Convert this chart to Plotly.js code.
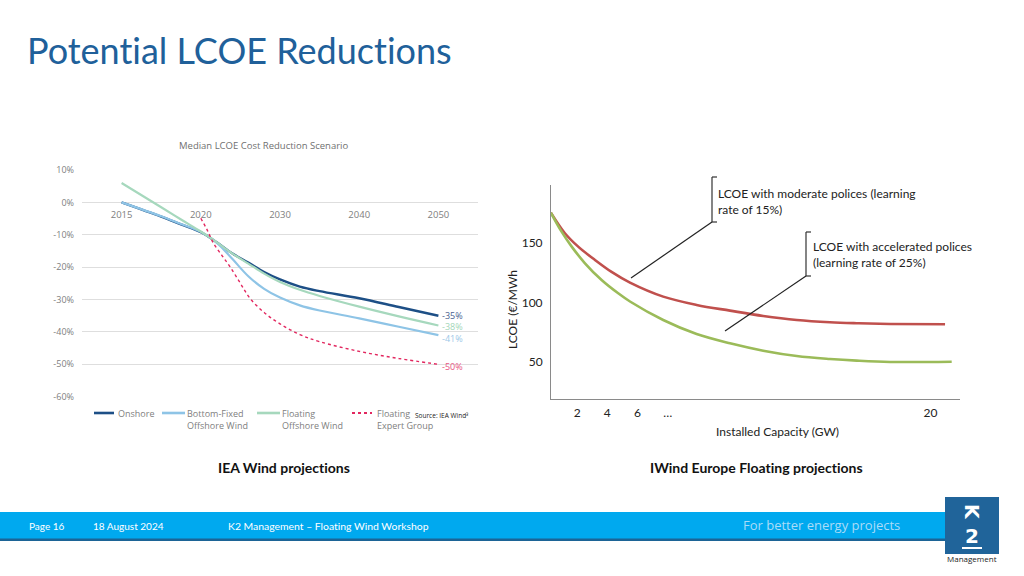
<!DOCTYPE html>
<html><head><meta charset="utf-8">
<script src="https://cdn.plot.ly/plotly-3.0.1.min.js"></script>
<style>html,body{margin:0;padding:0;background:#fff;}#chart{width:1024px;height:576px;}
svg text{font-variant-ligatures:none;font-feature-settings:"liga" 0,"clig" 0;}</style>
</head><body><div id="chart"></div>
<script>
const W = 1024, H = 576;
const px = x => x / W, py = y => 1 - y / H;

// ---- Left chart: IEA Wind median LCOE cost reduction (% vs 2015) ----
const ieaTickPos = [0, 1, 2, 3, 4];
const ieaTickText = ['2015', '2020', '2030', '2040', '2050'];
const pctTickVals = [10, 0, -10, -20, -30, -40, -50, -60];
const pctTickText = ['10%', '0%', '-10%', '-20%', '-30%', '-40%', '-50%', '-60%'];

const solidX = [0, 0.5, 0.75, 1, 1.2, 1.4, 1.6, 1.8, 2, 2.25, 2.5, 3, 3.5, 4];
const onshoreY = [0, -4.4, -6.8, -9.2, -12.3, -15.8, -18.6, -21.5, -23.8, -26, -27.4, -29.6, -32.3, -35];
const fixedY = [0, -4.3, -6.7, -9.1, -12.4, -17.5, -22.8, -26.7, -29.4, -31.8, -33.4, -35.8, -38.4, -41];
const floatY = [6, -1.5, -5.3, -9, -12.3, -15.8, -18.9, -22, -24.6, -27, -28.9, -32.2, -35.2, -38];
const expertX = [1.0, 1.08, 1.16, 1.27, 1.37, 1.5, 1.62, 1.8, 2, 2.25, 2.5, 3, 3.5, 4];
const expertY = [-4.9, -8.5, -12.6, -16.5, -19.9, -25, -29.6, -34, -37.5, -40.8, -43, -46, -48.2, -50];
const seriesNames = ['Onshore', 'Bottom-Fixed<br>Offshore Wind', 'Floating<br>Offshore Wind', 'Floating<br>Expert Group'];
const endLabels = ['-35%', '-38%', '-41%', '-50%'];
const endValues = [-35, -38, -41, -50];

// ---- Right chart: WindEurope floating LCOE vs installed capacity ----
const capTickPos = [2, 4, 6, 8, 25.4];
const capTickText = ['2', '4', '6', '…', '20'];
const lcoeTickVals = [50, 100, 150];
const moderateX = [0.26, 1.19, 2.07, 3.18, 4.28, 5.5, 7.7, 9.91, 12.12, 14.32, 16.54, 18.74, 20.51, 22.72, 26.36];
const moderateY = [175.7, 158.4, 147.1, 135.9, 125.8, 116.8, 105.0, 98.0, 93.2, 88.7, 85.3, 83.4, 82.6, 82.0, 81.7];
const accelX = [0.26, 0.97, 1.64, 2.52, 3.62, 4.72, 5.5, 7.7, 9.91, 12.12, 14.32, 16.54, 18.74, 20.51, 22.72, 26.8];
const accelY = [175.7, 159.7, 147.1, 133.1, 119.0, 107.8, 100.9, 85.3, 73.5, 65.7, 59.5, 55.0, 52.5, 51.1, 50.0, 50.2];

const gFont = 'Open Sans, sans-serif';
const cFont = 'Lato, sans-serif';
const grey = '#808080';
const seriesColors = ['#1d4f86', '#8ec4e6', '#a6d8bd', '#e2275f'];
const seriesWidths = [2.4, 2.2, 2.2, 1.4];
const seriesDash = ['solid', 'solid', 'solid', 'dot'];

const leftX = [solidX, solidX, solidX, expertX];
const leftY = [onshoreY, fixedY, floatY, expertY];
const traces = leftX.map((xs, i) => ({
  x: xs, y: leftY[i], name: seriesNames[i], mode: 'lines', xaxis: 'x', yaxis: 'y',
  line: {color: seriesColors[i], width: seriesWidths[i], dash: seriesDash[i], shape: 'spline', smoothing: 1}
}));
traces.push(
  {x: moderateX, y: moderateY, name: 'Moderate (15%)', mode: 'lines', line: {color: '#c0504d', width: 2.6, shape: 'spline'}, xaxis: 'x2', yaxis: 'y2'},
  {x: accelX, y: accelY, name: 'Accelerated (25%)', mode: 'lines', line: {color: '#9bbb59', width: 2.6, shape: 'spline'}, xaxis: 'x2', yaxis: 'y2'}
);

const endColors = ['#4a6290', '#a3d6b8', '#9cc8e8', '#e8557f'];
const endShift = [0, -1, -3, -2];

const A = (x, y, text, font, extra) => Object.assign({xref: 'paper', yref: 'paper', x: px(x), y: py(y), xanchor: 'left', yanchor: 'middle', showarrow: false, text: text, font: font}, extra || {});
const annotations = [
  A(25, 50, 'Potential LCOE Reductions', {family: cFont, size: 36, color: '#20609a'}),
  A(263, 145, 'Median LCOE Cost Reduction Scenario', {family: gFont, size: 9.5, color: '#707070'}, {xanchor: 'center'}),
  A(413, 415, 'Source: IEA Wind³', {family: gFont, size: 6.5, color: '#222'}),
  A(284, 467, '<b>IEA Wind projections</b>', {family: cFont, size: 14, color: '#111'}, {xanchor: 'center'}),
  A(756, 467, '<b>IWind Europe Floating projections</b>', {family: cFont, size: 14, color: '#111'}, {xanchor: 'center'}),
  A(512, 310, 'LCOE (€/MWh', {family: cFont, size: 12, color: '#222'}, {xanchor: 'center', textangle: -90}),
  A(777, 431, 'Installed Capacity (GW)', {family: cFont, size: 12, color: '#222'}, {xanchor: 'center'}),
  A(716, 184, 'LCOE with moderate polices (learning<br>rate of 15%)', {family: cFont, size: 12, color: '#222'}, {yanchor: 'top', align: 'left'}),
  A(811, 237, 'LCOE with accelerated polices<br>(learning rate of 25%)', {family: cFont, size: 12, color: '#222'}, {yanchor: 'top', align: 'left'}),
  // footer
  A(27, 526, 'Page 16', {family: cFont, size: 10, color: '#fff'}),
  A(91, 526, '18 August 2024', {family: cFont, size: 10, color: '#fff'}),
  A(226, 526, 'K2 Management – Floating Wind Workshop', {family: cFont, size: 10.4, color: '#fff'}),
  A(741, 525, 'For better energy projects', {family: gFont, size: 13, color: '#aadcf8'}),
  A(972, 512, '<b>K</b>', {family: 'DejaVu Sans, sans-serif', size: 19, color: '#fff'}, {xanchor: 'center', textangle: 90}),
  A(972, 536, '<b>2</b>', {family: 'DejaVu Sans, sans-serif', size: 20, color: '#fff'}, {xanchor: 'center'}),
  A(972, 558, 'Management', {family: gFont, size: 8, color: '#222'}, {xanchor: 'center'})
];
endLabels.forEach((t, i) => annotations.push({
  xref: 'x', yref: 'y', x: ieaTickPos[4], y: endValues[i], xanchor: 'left', yanchor: 'middle', xshift: 2, yshift: endShift[i],
  showarrow: false, text: t, font: {family: gFont, size: 9, color: endColors[i]}
}));

const L = (x0, y0, x1, y1, color, w, dash) => ({type: 'line', xref: 'paper', yref: 'paper', x0: px(x0), y0: py(y0), x1: px(x1), y1: py(y1), line: {color: color, width: w, dash: dash || 'solid'}});
const shapes = [
  {type: 'rect', xref: 'paper', yref: 'paper', x0: 0, x1: px(946), y0: py(540), y1: py(512), fillcolor: '#00a9ef', line: {width: 0}, layer: 'below'},
  {type: 'rect', xref: 'paper', yref: 'paper', x0: 0, x1: px(946), y0: py(541), y1: py(538.5), fillcolor: '#1c6496', line: {width: 0}, layer: 'below'},
  {type: 'rect', xref: 'paper', yref: 'paper', x0: px(945), x1: px(999), y0: py(554), y1: py(497), fillcolor: '#20649a', line: {width: 0}, layer: 'below'},
  L(962, 548, 982, 548, '#fff', 2),
  L(712, 177, 712, 222, '#333', 1.2), L(712, 177, 717, 177, '#333', 1.2), L(712, 222, 717, 222, '#333', 1.2),
  L(712, 222, 631, 278, '#222', 1.2),
  L(806, 232, 806, 276, '#333', 1.2), L(806, 232, 811, 232, '#333', 1.2), L(806, 276, 811, 276, '#333', 1.2),
  L(806, 276, 725, 331, '#222', 1.2)
];

// legend of left chart (sample line + label)
const legSampleX = [[94, 114], [162, 185], [257, 280], [352, 372]];
const legTextX = [116, 185, 280, 375];
seriesNames.forEach((n, i) => {
  shapes.push(L(legSampleX[i][0], 413, legSampleX[i][1], 413, seriesColors[i], i === 3 ? 2 : 2.6, seriesDash[i]));
  annotations.push(A(legTextX[i], 405, n, {family: gFont, size: 9, color: grey}, {yanchor: 'top', align: 'left'}));
});

const layout = {
  width: W, height: H, margin: {l: 0, r: 0, t: 0, b: 0}, paper_bgcolor: '#fff', plot_bgcolor: 'rgba(0,0,0,0)',
  showlegend: false,
  xaxis: {domain: [px(82), px(478)], range: [-0.5, 4.5], tickvals: ieaTickPos, ticktext: ieaTickText,
          anchor: 'free', position: py(202.3), showgrid: false, zeroline: false, showline: false, ticks: '',
          tickfont: {family: gFont, size: 9.5, color: grey}, ticklabelstandoff: 5},
  yaxis: {domain: [py(396.7), py(170)], range: [-60, 10], tickvals: pctTickVals, ticktext: pctTickText,
          showgrid: true, gridcolor: '#dedede', gridwidth: 1, zeroline: false, showline: false, ticks: '',
          tickfont: {family: gFont, size: 9, color: grey}, ticklabelstandoff: 7},
  xaxis2: {domain: [px(551), px(960)], range: [0.27, 27.35], tickvals: capTickPos, ticktext: capTickText, anchor: 'y2',
           showgrid: false, zeroline: false, showline: true, linecolor: '#8a8a8a', linewidth: 1, ticks: '',
           tickfont: {family: cFont, size: 12, color: '#222'}, ticklabelstandoff: 3},
  yaxis2: {domain: [py(399), py(185)], range: [18.8, 199], tickvals: lcoeTickVals, anchor: 'x2',
           showgrid: false, zeroline: false, showline: true, linecolor: '#8a8a8a', linewidth: 1, ticks: '',
           tickfont: {family: cFont, size: 12, color: '#222'}, ticklabelstandoff: 5},
  annotations: annotations,
  shapes: shapes
};

Plotly.newPlot('chart', traces, layout, {staticPlot: true, displayModeBar: false});
</script></body></html>
